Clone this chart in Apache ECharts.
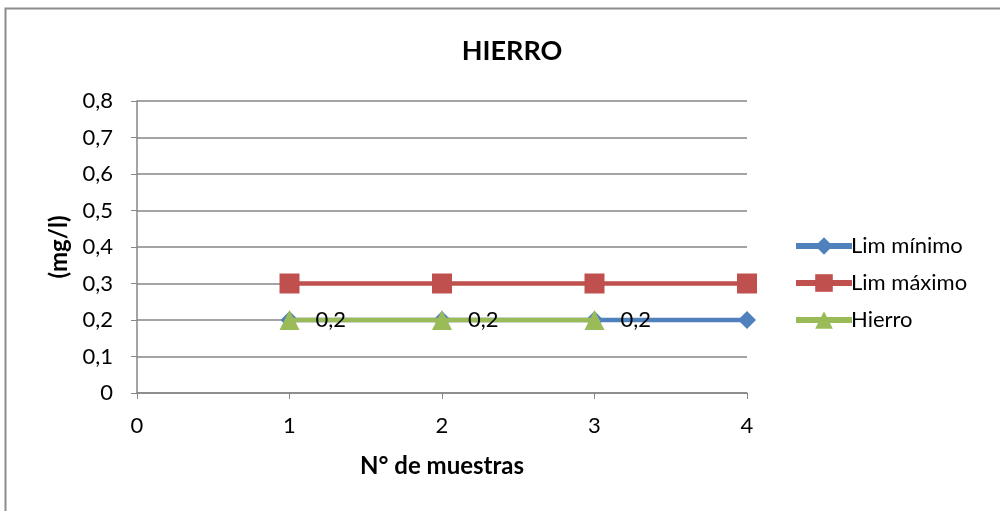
<!DOCTYPE html>
<html>
<head>
<meta charset="utf-8">
<script src="https://cdn.jsdelivr.net/npm/echarts@6/dist/echarts.min.js"></script>
<style>
  html, body { margin: 0; padding: 0; background: #fff; }
  #chart { width: 1000px; height: 511px; }
</style>
</head>
<body>
<div id="chart"></div>
<script>
// Sample numbers (x axis) and concentrations in mg/l
const muestras = [1, 2, 3, 4];
const limMinimo = [0.2, 0.2, 0.2, 0.2];
const limMaximo = [0.3, 0.3, 0.3, 0.3];
const hierroMuestras = [1, 2, 3];
const hierro = [0.2, 0.2, 0.2];
const yTicks = [0, 0.1, 0.2, 0.3, 0.4, 0.5, 0.6, 0.7, 0.8];

const FONT = 'Lato, "Open Sans", sans-serif';
const AXIS_GRAY = '#868686';

const fmt = v => (v === 0 ? '0' : String(Math.round(v * 10) / 10).replace('.', ','));
const pairs = (xs, ys) => xs.map((x, i) => [x, ys[i]]);

const chart = echarts.init(document.getElementById('chart'));
chart.setOption({
  animation: false,
  backgroundColor: '#fff',
  title: {
    text: 'HIERRO',
    left: 507,
    top: 33,
    textAlign: 'center',
    textStyle: { fontFamily: FONT, fontSize: 27, fontWeight: 'bold', color: '#000' }
  },
  graphic: [{
    type: 'rect',
    shape: { x: 5.5, y: 8.5, width: 1200, height: 800 },
    style: { fill: 'none', stroke: '#8c8c8c', lineWidth: 2 },
    silent: true,
    z: -1
  }],
  grid: { left: 137, right: 253, top: 101, bottom: 118, containLabel: false },
  legend: {
    orient: 'vertical',
    left: 788,
    top: 230,
    itemWidth: 56,
    itemHeight: 22,
    itemGap: 15,
    lineStyle: { width: 6 },
    textStyle: { fontFamily: FONT, fontSize: 22, color: '#000', padding: [0, 0, 0, -6] },
    data: ['Lim mínimo', 'Lim máximo', 'Hierro']
  },
  xAxis: {
    type: 'value',
    min: 0,
    max: 4,
    interval: 1,
    name: 'N° de muestras',
    nameLocation: 'middle',
    nameGap: 61,
    nameTextStyle: { fontFamily: FONT, fontSize: 24, fontWeight: 'bold', color: '#000' },
    axisLine: { show: true, lineStyle: { color: AXIS_GRAY, width: 1.5 } },
    axisTick: { show: true, inside: false, length: 6, lineStyle: { color: AXIS_GRAY } },
    axisLabel: { fontFamily: FONT, fontSize: 22, color: '#000', margin: 22 },
    splitLine: { show: false }
  },
  yAxis: {
    type: 'value',
    min: 0,
    max: 0.8,
    interval: 0.1,
    name: '(mg/l)',
    nameLocation: 'middle',
    nameGap: 66,
    nameRotate: 90,
    nameTextStyle: { fontFamily: FONT, fontSize: 24, fontWeight: 'bold', color: '#000' },
    axisLine: { show: true, lineStyle: { color: AXIS_GRAY, width: 1.5 } },
    axisTick: { show: true, inside: false, length: 6, lineStyle: { color: AXIS_GRAY } },
    axisLabel: {
      fontFamily: FONT, fontSize: 22, color: '#000', margin: 24,
      formatter: v => fmt(yTicks.reduce((a, b) => (Math.abs(b - v) < Math.abs(a - v) ? b : a)))
    },
    splitLine: { show: true, lineStyle: { color: AXIS_GRAY, width: 1.5 } }
  },
  series: [
    {
      name: 'Lim mínimo',
      type: 'line',
      data: pairs(muestras, limMinimo),
      symbol: 'diamond',
      symbolSize: 18,
      color: '#4F81BD',
      lineStyle: { width: 4.5, color: '#4F81BD' },
      itemStyle: { color: '#4F81BD' },
      z: 2
    },
    {
      name: 'Lim máximo',
      type: 'line',
      data: pairs(muestras, limMaximo),
      symbol: 'rect',
      symbolSize: 20,
      color: '#C0504D',
      lineStyle: { width: 4.5, color: '#C0504D' },
      itemStyle: { color: '#C0504D' },
      z: 3
    },
    {
      name: 'Hierro',
      type: 'line',
      data: pairs(hierroMuestras, hierro),
      symbol: 'triangle',
      symbolSize: 20,
      color: '#9BBB59',
      lineStyle: { width: 4.5, color: '#9BBB59' },
      itemStyle: { color: '#9BBB59' },
      label: {
        show: true,
        position: 'right',
        distance: 16,
        fontFamily: FONT,
        fontSize: 22,
        color: '#000',
        formatter: p => fmt(p.value[1])
      },
      z: 4
    }
  ]
});
</script>
</body>
</html>
